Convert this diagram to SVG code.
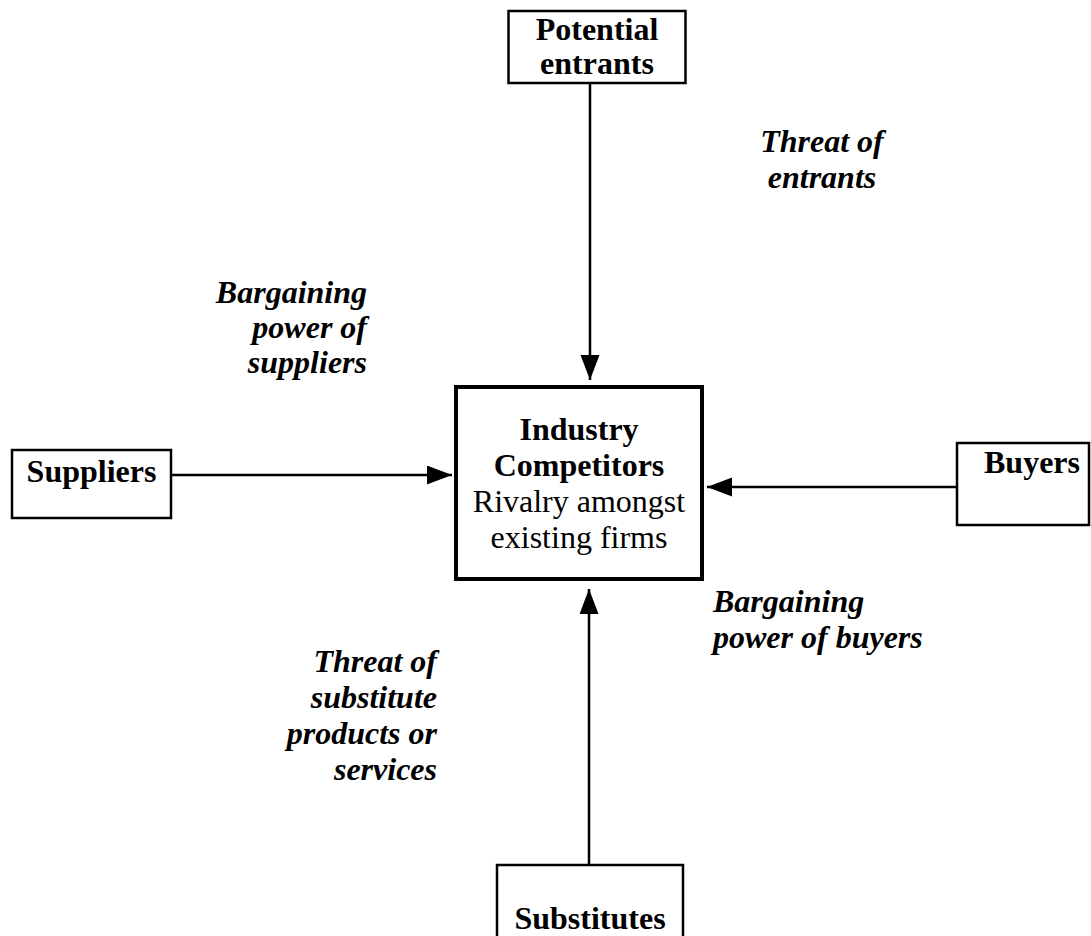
<svg xmlns="http://www.w3.org/2000/svg" width="1091" height="936" viewBox="0 0 1091 936">
  <style>
    text { font-family: "Liberation Serif", "Times New Roman", serif; font-size: 32px; fill: #000; }
    .b { font-weight: bold; }
    .lbl { font-weight: bold; font-style: italic; }
    .box { fill: #fff; stroke: #000; stroke-width: 2.5; }
    .core { fill: #fff; stroke: #000; stroke-width: 4; }
    .conn { stroke: #000; stroke-width: 2.5; fill: none; marker-end: url(#head); }
  </style>
  <defs>
    <marker id="head" markerUnits="userSpaceOnUse" markerWidth="26" markerHeight="20" refX="25" refY="9.5" orient="auto">
      <path d="M0,0 L25,9.5 L0,19 z" fill="#000"/>
    </marker>
  </defs>
  <rect width="1091" height="936" fill="#fff"/>

  <!-- arrows pointing into the central box -->
  <g id="connectors">
    <line class="conn" x1="590" y1="83" x2="590" y2="380"/>
    <line class="conn" x1="171" y1="475" x2="452" y2="475"/>
    <line class="conn" x1="957" y1="487" x2="707" y2="487"/>
    <line class="conn" x1="589" y1="865" x2="589" y2="589"/>
  </g>

  <g id="potential-entrants">
    <rect class="box" x="508.5" y="11" width="177" height="72"/>
    <text class="b" x="597" y="40" text-anchor="middle">Potential</text>
    <text class="b" x="597" y="74" text-anchor="middle">entrants</text>
  </g>

  <g id="industry-competitors">
    <rect class="core" x="456" y="387" width="246" height="192"/>
    <text class="b" x="579" y="440" text-anchor="middle">Industry</text>
    <text class="b" x="579" y="476" text-anchor="middle">Competitors</text>
    <text x="579" y="512" text-anchor="middle">Rivalry amongst</text>
    <text x="579" y="548" text-anchor="middle">existing firms</text>
  </g>

  <g id="suppliers">
    <rect class="box" x="12" y="450" width="159" height="68"/>
    <text class="b" x="91.5" y="482" text-anchor="middle">Suppliers</text>
  </g>

  <g id="buyers">
    <rect class="box" x="957" y="443" width="132" height="82"/>
    <text class="b" x="1032" y="473" text-anchor="middle">Buyers</text>
  </g>

  <g id="substitutes">
    <rect class="box" x="497" y="865" width="186" height="100"/>
    <text class="b" x="590" y="929" text-anchor="middle">Substitutes</text>
  </g>

  <!-- force labels -->
  <g id="label-entrants">
    <text class="lbl" x="822" y="152" text-anchor="middle">Threat of</text>
    <text class="lbl" x="822" y="188" text-anchor="middle">entrants</text>
  </g>
  <g id="label-suppliers">
    <text class="lbl" x="367" y="303" text-anchor="end">Bargaining</text>
    <text class="lbl" x="367" y="338" text-anchor="end">power of</text>
    <text class="lbl" x="367" y="373" text-anchor="end">suppliers</text>
  </g>
  <g id="label-buyers">
    <text class="lbl" x="713" y="612">Bargaining</text>
    <text class="lbl" x="713" y="648">power of buyers</text>
  </g>
  <g id="label-substitutes">
    <text class="lbl" x="437" y="672" text-anchor="end">Threat of</text>
    <text class="lbl" x="437" y="708" text-anchor="end">substitute</text>
    <text class="lbl" x="437" y="744" text-anchor="end">products or</text>
    <text class="lbl" x="437" y="780" text-anchor="end">services</text>
  </g>
</svg>
